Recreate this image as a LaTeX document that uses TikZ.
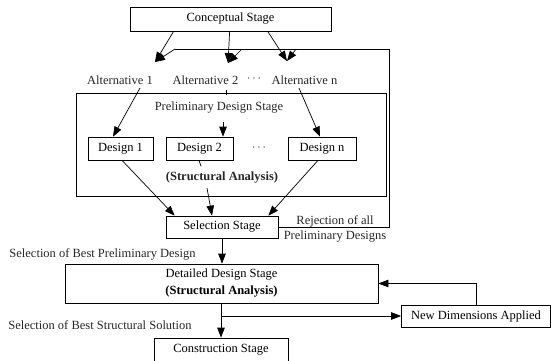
\documentclass[tikz,border=0pt]{standalone}
\usepackage{fontspec}
\setmainfont{Liberation Serif}
\usetikzlibrary{arrows.meta}

\tikzset{
  box/.style={draw,inner sep=0pt,fill=white},
  lbl/.style={inner sep=0pt,text=black!85},
  arr/.style={-{Triangle[length=10pt,width=7.5pt]}},
}

\begin{document}
\begin{tikzpicture}[x=1pt,y=-1pt,line width=0.7pt,font=\fontsize{12.5}{15}\selectfont]
\useasboundingbox (0,0) rectangle (551,361);
% stages
\node[box,minimum width=201pt,minimum height=24pt] (concept) at (230.5,19) {Conceptual Stage};
\node[box,minimum width=310pt,minimum height=103pt] (prelim) at (231,144.5) {};
\node[lbl] (pds) at (219,108) {Preliminary Design Stage};
\node[box,minimum width=65pt,minimum height=23pt] (d1) at (120.5,148.5) {Design 1};
\node[box,minimum width=67pt,minimum height=23pt] (d2) at (199.5,148.5) {Design 2};
\node[lbl] (ddots) at (259,148) {$\cdots$};
\node[box,minimum width=68pt,minimum height=23pt] (dn) at (322,148.5) {Design n};
\node[lbl,font=\fontsize{12.5}{15}\selectfont\bfseries] (sa) at (222,178) {(Structural Analysis)};
\node[box,minimum width=112pt,minimum height=22pt] (sel) at (222,227) {Selection Stage};
\node[box,minimum width=313pt,minimum height=39pt,align=center] (det) at (221.5,283.5)
  {Detailed Design Stage\\[2pt]\textbf{(Structural Analysis)}};
\node[box,minimum width=149pt,minimum height=22pt] (newdim) at (476,316) {New Dimensions Applied};
\node[box,minimum width=134pt,minimum height=24pt] (cons) at (221,350) {Construction Stage};

% alternatives
\node[lbl] (alt1) at (120,80) {Alternative 1};
\node[lbl] (alt2) at (205.5,80) {Alternative 2};
\node[lbl] (adots) at (254,79) {$\cdots$};
\node[lbl] (altn) at (304.5,80) {Alternative n};

% labels
\node[lbl,align=center] (rej) at (335,228.5) {Rejection of all\\Preliminary Designs};
\node[lbl] (bestpre) at (102.5,254) {Selection of Best Preliminary Design};
\node[lbl] (bestsol) at (100,325) {Selection of Best Structural Solution};

% tips
\coordinate (a1tip) at (155,62);
\coordinate (a2tip) at (228,63);
\coordinate (antip) at (287,61);
\coordinate (fbl) at (175,49);
\coordinate (fb2) at (242,49);
\coordinate (fbn) at (296,49);
\coordinate (fbr) at (389,49);

% conceptual -> alternatives
\draw[arr] ([xshift=44pt]concept.south west) -- (a1tip);
\draw[arr] ([xshift=100pt]concept.south west) -- (a2tip);
\draw[arr] ([xshift=138pt]concept.south west) -- (antip);

% rejection loop
\draw (sel.east) -- (fbr |- sel.east) -- (fbr) -- (fbl);
\draw[arr] (fbl) -- (a1tip);
\draw[arr] (fb2) -- (a2tip);
\draw[arr] (fbn) -- (antip);

% alternatives -> designs
\draw[arr] ([xshift=20pt,yshift=-8pt]alt1.center) -- ([xshift=-7.5pt]d1.north);
\draw ([xshift=20.5pt,yshift=-10pt]alt2.center) -- ([xshift=20.5pt,yshift=-15pt]alt2.center);
\draw[arr] ([xshift=4pt,yshift=-14pt]pds.center) -- ([xshift=23.5pt]d2.north);
\draw[arr] ([xshift=-5.5pt,yshift=-8pt]altn.center) -- ([xshift=-2pt]dn.north);

% designs -> selection
\draw[arr] ([xshift=1.5pt]d1.south) -- ([xshift=9pt]sel.north west);
\draw ([xshift=-0.5pt]d2.south) -- ([xshift=1.5pt,yshift=-6pt]d2.south);
\draw[arr] ([xshift=-15pt,yshift=-10pt]sa.center) -- ([xshift=-10pt]sel.north);
\draw[arr] ([xshift=-4pt]dn.south) -- ([xshift=-10pt]sel.north east);

% detailed design
\draw[arr] (sel.south) -- (sel.south |- det.north);
\draw[arr] (det.south -| cons.north) -- (cons.north);
\draw[arr] (det.south -| cons.north) |- (newdim.west);
\draw[arr] (newdim.north) |- (det.east);
\end{tikzpicture}
\end{document}
